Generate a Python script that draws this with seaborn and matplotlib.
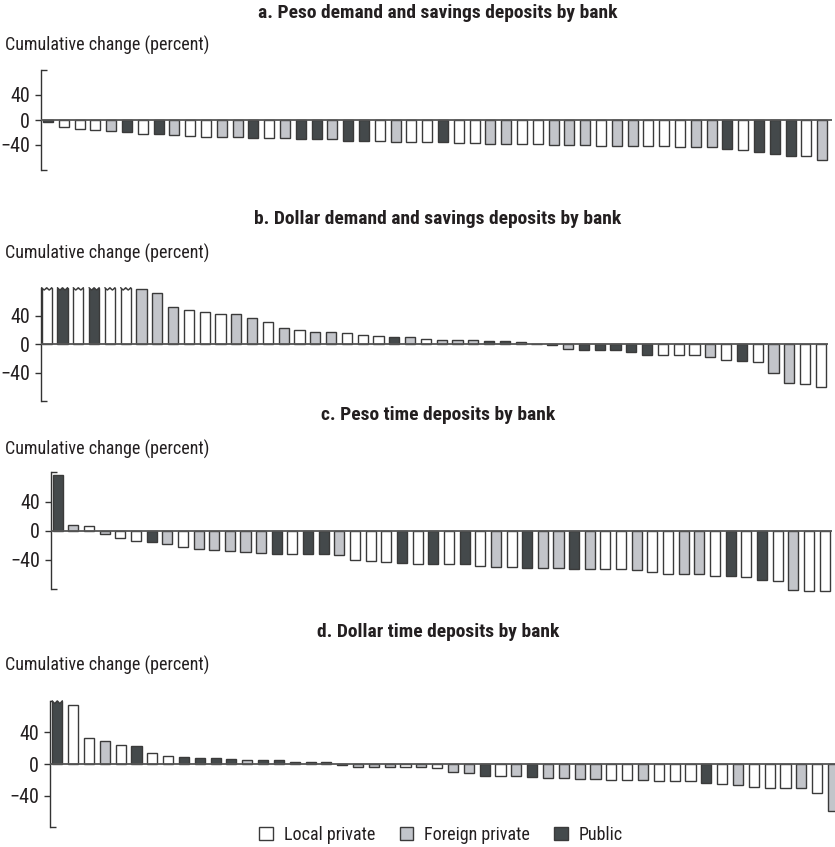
import matplotlib.pyplot as plt
import seaborn as sns
import numpy as np
import pandas as pd
from matplotlib import font_manager
from matplotlib.patches import Patch

plt.switch_backend('Agg')

W, H = 835, 847

# Bank types: L = local private, F = foreign private, P = public
kind_names = {'L': 'Local private', 'F': 'Foreign private', 'P': 'Public'}
kind_colors = {'L': '#ffffff', 'F': '#c2c5cb', 'P': '#434a4c'}

titles = [
    'a. Peso demand and savings deposits by bank',
    'b. Dollar demand and savings deposits by bank',
    'c. Peso time deposits by bank',
    'd. Dollar time deposits by bank',
]

# cumulative change (percent); 90 marks bars that run off the scale
values_a = [-3, -12, -15, -16, -17, -20, -22, -23, -24.5, -25,
            -26.5, -28, -28, -29, -29, -29.5, -30, -30, -31, -33,
            -34, -34, -35, -35, -36, -36, -37, -37, -38, -38,
            -39, -39, -40, -40, -40, -41, -41, -42, -42, -42,
            -43, -43, -44, -47, -48, -52, -54, -57, -57, -64]
kinds_a = list("PLLLFPLPFLLFFPLFPPFPPLFLLPLLFFLLFFFLFFLLLFFPLPPPLF")

values_b = [90, 90, 90, 90, 90, 90, 78, 72, 52, 49,
            45, 43, 43, 37, 32, 23.5, 20, 17, 17, 16,
            13, 12, 11, 10, 8, 6, 5.5, 5.5, 4.5, 4,
            3, 1, -1, -6, -8, -8, -8, -11.5, -14.5, -14.6,
            -15, -15, -18.5, -21.5, -24, -24.5, -40.5, -54.6, -56, -60.6]
kinds_b = list("LPLPLLFFFLLLFFLFLFFLLLPFLFFFPPLLPFPPPPPLLLFLPLFFLL")

values_c = [77, 7.3, 6.8, -4.6, -9.6, -14.6, -15.5, -18, -22, -25,
            -27, -28, -29, -31, -32.4, -32.4, -32.4, -32.4, -34, -40,
            -42, -43, -44, -45, -45, -45, -45, -48, -50, -50,
            -51, -51, -51, -52, -52, -52.5, -52.5, -54, -57, -59,
            -59, -60, -62, -62, -63, -67, -69, -81, -83, -83]
kinds_c = list("PFLFLLPFLFFFFFPLPPFLLLPLPLPLFLPFFPFLLFLLFFLPLPLFLL")

values_d = [90, 74.5, 33, 29.5, 23.6, 22.7, 14, 10, 9, 8,
            7.6, 6.7, 5.5, 4.6, 4.6, 2.3, 2.3, 2.3, -1.7, -3.2,
            -3.2, -3.2, -3.2, -3.8, -4.6, -10.5, -11, -14.7, -15.6, -15.6,
            -17, -17.7, -17.7, -18.5, -19, -20, -20.6, -20.6, -22, -22,
            -22, -24, -25, -27, -28.6, -30, -30.7, -31, -37, -60]
kinds_d = list("PLLFLPLLPPPPFPPPPPPFFFLFLFFPLFPFFFFLLFLLLPLFLLLFLF")

sns.set_theme(style='white')

# pick a condensed sans if one is installed (the original uses a narrow face)
entries = font_manager.fontManager.ttflist
names = {f.name for f in entries}
family, stretch, fs = 'Liberation Sans', 'normal', 11
for cand in ['Liberation Sans Narrow', 'Roboto Condensed', 'Open Sans Condensed',
             'Noto Sans Condensed', 'DejaVu Sans Condensed']:
    if cand in names:
        family, stretch, fs = cand, 'normal', 13
        break
else:
    for cand in ['Noto Sans', 'DejaVu Sans', 'Roboto', 'Open Sans']:
        if any(f.name == cand and str(f.stretch) in ('condensed', 'semi-condensed')
               for f in entries):
            family, stretch, fs = cand, 'condensed', 13
            break

plt.rcParams['font.family'] = [family, 'DejaVu Sans']
plt.rcParams['font.stretch'] = stretch
text_color = '#231f20'
edge = '#3a3a3a'

fig = plt.figure(figsize=(W / 100, H / 100), dpi=100)


def draw_panel(values, kinds, title, zero_y, scale, left_x, first_x, step, right_x,
               title_y, label_y, cap=80):
    ymin, ymax = -88, 84
    top = zero_y - ymax * scale
    bottom = zero_y - ymin * scale
    ax = fig.add_axes([left_x / W, 1 - bottom / H, (right_x - left_x) / W, (bottom - top) / H])

    df = pd.DataFrame({'bank': np.arange(len(values)),
                       'change': np.clip(values, None, cap),
                       'kind': kinds})
    sns.barplot(data=df, x='bank', y='change', hue='kind', hue_order=['L', 'F', 'P'],
                palette=kind_colors, dodge=False, width=0.64, edgecolor=edge,
                linewidth=1.0, legend=False, ax=ax)

    # broken tops for bars that run off the scale
    for p in ax.patches:
        h = p.get_height()
        if h >= cap - 1e-9:
            x0, w = p.get_x(), p.get_width()
            t = p.get_y() + h
            d = 3.5
            zx = [x0, x0 + w / 4, x0 + w / 2, x0 + 3 * w / 4, x0 + w]
            zy = [t, t - d, t, t - d, t]
            ax.fill(zx + [x0 + w, x0], zy + [t + 3, t + 3], color='white', lw=0, zorder=4)
            ax.plot(zx, zy, color=edge, lw=1.0, zorder=5, solid_joinstyle='miter')

    ax.axhline(0, color='#555555', lw=1.3, zorder=3)

    ax.set_ylim(ymin, ymax)
    ax.set_xlim((left_x - first_x) / step, (right_x - first_x) / step)
    sns.despine(ax=ax, bottom=True)
    ax.spines['left'].set_bounds(-80, 80)
    ax.spines['left'].set_color('#333333')
    ax.spines['left'].set_linewidth(1.0)
    ax.set_xticks([])
    ax.set_yticks([-40, 0, 40])
    ax.set_yticks([-80, 80], minor=True)
    ax.tick_params(axis='y', which='major', left=True, direction='out', length=4,
                   width=1, color='#333333', pad=4, labelsize=fs + 1.5, labelcolor=text_color)
    ax.tick_params(axis='y', which='minor', left=True, direction='in', length=4,
                   width=1, color='#333333')
    ax.set_xlabel('')
    ax.set_ylabel('')

    fig.text(438 / W, 1 - title_y / H, title, ha='center', va='center',
             fontsize=fs + 1, fontweight='bold', color=text_color)
    fig.text(5 / W, 1 - label_y / H, 'Cumulative change (percent)', ha='left',
             va='center', fontsize=fs, color=text_color)
    return ax


draw_panel(values_a, kinds_a, titles[0], 120, 0.625, 41, 48, 15.8, 832, 13, 45)
draw_panel(values_b, kinds_b, titles[1], 344.3, 0.708, 41, 46.7, 15.8, 828, 219, 253)
draw_panel(values_c, kinds_c, titles[2], 530.7, 0.729, 51, 57.7, 15.65, 832, 415, 449)
draw_panel(values_d, kinds_d, titles[3], 764, 0.79, 50, 57.3, 15.83, 835, 632, 665)

handles = [Patch(facecolor=kind_colors[k], edgecolor=edge, linewidth=1.0, label=kind_names[k])
           for k in ['L', 'F', 'P']]
fig.legend(handles=handles, loc='center', bbox_to_anchor=(441 / W, 1 - 835 / H), ncol=3,
           frameon=False, fontsize=fs, handlelength=0.75, handleheight=0.75,
           handletextpad=0.6, columnspacing=1.35, labelcolor=text_color)

fig.savefig('out.png', dpi=100)
plt.close(fig)
